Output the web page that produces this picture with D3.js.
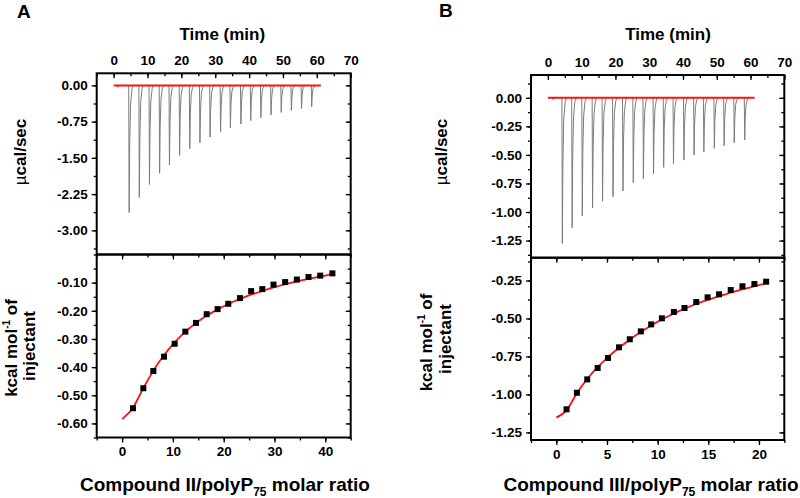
<!DOCTYPE html>
<html><head><meta charset="utf-8">
<script src="https://cdn.jsdelivr.net/npm/d3@7"></script>
<style>
body{margin:0;background:#fff}
svg{display:block}
text{font-family:"Liberation Sans",Arial,sans-serif;font-weight:bold;fill:#000}
</style>
</head><body>
<svg id="c" width="800" height="498"></svg>
<script>
// ---------- shared tick labels ----------
const timeTicks = [0, 10, 20, 30, 40, 50, 60, 70];

// ---------- Panel A ----------
const injTimesA = [1.2, 4.5, 7.5, 10.5, 13.5, 16.4, 19.4, 22.4, 25.4, 28.4, 31.5, 34.4, 37.5, 40.4, 43.4, 46.4, 49.4, 52.4, 55.4, 58.4];
const peaksA = [-0.04, -2.63, -2.32, -2.05, -1.82, -1.65, -1.45, -1.31, -1.19, -1.07, -0.96, -0.88, -0.80, -0.73, -0.67, -0.61, -0.56, -0.52, -0.48, -0.44];
const baselineA = [0, 61.2];
const ratioA = [2.15, 4.18, 6.15, 8.25, 10.35, 12.45, 14.55, 16.65, 18.8, 20.9, 23.2, 25.4, 27.6, 29.8, 32.1, 34.4, 36.7, 39.0, 41.4];
const heatA = [-0.546, -0.475, -0.414, -0.363, -0.317, -0.274, -0.243, -0.212, -0.194, -0.175, -0.155, -0.130, -0.123, -0.107, -0.098, -0.089, -0.080, -0.075, -0.067];
const fitRatioA = [0, 1, 2, 3, 4, 5, 6, 8, 10, 12, 14, 16, 18, 20, 22, 24, 26, 28, 30, 32, 34, 36, 38, 40, 41.5];
const fitHeatA = [-0.585, -0.568, -0.549, -0.516, -0.481, -0.448, -0.417, -0.363, -0.319, -0.282, -0.251, -0.225, -0.203, -0.184, -0.167, -0.152, -0.139, -0.127, -0.116, -0.106, -0.097, -0.089, -0.082, -0.075, -0.069];
const yTicksTopA = [0, -0.75, -1.5, -2.25, -3.0];
const yTicksBotA = [-0.1, -0.2, -0.3, -0.4, -0.5, -0.6];
const xTicksBotA = [0, 10, 20, 30, 40];

// ---------- Panel B ----------
const injTimesB = [1.3, 4.2, 7.1, 10.1, 13.15, 16.1, 19.2, 22.15, 25.2, 28.2, 31.2, 34.2, 37.1, 40.2, 43.2, 46.1, 49.2, 52.1, 55.1, 58.2];
const peaksB = [-0.015, -1.275, -1.137, -1.035, -0.965, -0.906, -0.866, -0.816, -0.743, -0.708, -0.664, -0.609, -0.577, -0.545, -0.501, -0.475, -0.442, -0.419, -0.393, -0.37];
const baselineB = [0, 61.2];
const ratioB = [1.01, 2.03, 3.05, 4.08, 5.1, 6.19, 7.25, 8.34, 9.36, 10.42, 11.6, 12.65, 13.81, 14.93, 16.06, 17.21, 18.37, 19.55, 20.71];
const heatB = [-1.098, -0.989, -0.901, -0.826, -0.760, -0.690, -0.637, -0.585, -0.539, -0.499, -0.457, -0.431, -0.392, -0.361, -0.341, -0.313, -0.288, -0.273, -0.258];
const fitRatioB = [0, 1, 2, 3, 4, 5, 6, 7, 8, 9, 10, 11, 12, 13, 14, 15, 16, 17, 18, 19, 20, 20.7];
const fitHeatB = [-1.153, -1.105, -0.995, -0.902, -0.826, -0.761, -0.703, -0.651, -0.604, -0.561, -0.522, -0.487, -0.455, -0.426, -0.400, -0.376, -0.354, -0.334, -0.315, -0.298, -0.281, -0.266];
const yTicksTopB = [0, -0.25, -0.5, -0.75, -1.0, -1.25];
const yTicksBotB = [-0.25, -0.5, -0.75, -1.0, -1.25];
const xTicksBotB = [0, 5, 10, 15, 20];

const svg = d3.select("#c");

function minorOf(major, lo, hi) {
  const step = Math.abs(major[1] - major[0]) / 2;
  const out = [];
  const start = Math.ceil(lo / step - 1e-9);
  const end = Math.floor(hi / step + 1e-9);
  for (let k = start; k <= end; k++) out.push(+(k * step).toFixed(6));
  return out;
}

function axis(g, maker, scale, tx, ty, major, inward, fmt, pad) {
  const d = scale.domain();
  const lo = Math.min(d[0], d[1]), hi = Math.max(d[0], d[1]);
  const minor = minorOf(major, lo, hi);
  const gm = g.append("g").attr("transform", `translate(${tx},${ty})`)
    .call(maker(scale).tickValues(minor).tickSize(inward ? -3 : 3).tickFormat(""));
  gm.select(".domain").remove();
  gm.selectAll("line").attr("stroke", "#000").attr("stroke-width", 1.3);
  const ga = g.append("g").attr("transform", `translate(${tx},${ty})`)
    .call(maker(scale).tickValues(major).tickSize(inward ? -5 : 5).tickPadding(pad)
      .tickFormat(fmt || ""));
  ga.select(".domain").remove();
  ga.selectAll("line").attr("stroke", "#000").attr("stroke-width", 1.3);
  ga.selectAll("text").attr("font-size", 13.5).attr("font-family", '"Liberation Sans",Arial,sans-serif')
    .attr("font-weight", "bold").attr("fill", "#000");
  return ga;
}

function drawPanel(cfg) {
  const { L, R, T, S, B } = cfg.box;
  const g = svg.append("g");
  const xt = d3.scaleLinear().domain([-5, 70]).range([L, R]);
  const yt = d3.scaleLinear().domain(cfg.ytDomain).range([S, T]);
  const xb = d3.scaleLinear().domain(cfg.xbDomain).range([L, R]);
  const yb = d3.scaleLinear().domain(cfg.ybDomain).range([B, S]);

  // thermogram spikes
  const spikeLine = d3.line().x(d => xt(d[0])).y(d => yt(d[1]));
  cfg.times.forEach((t, i) => {
    const p = cfg.peaks[i];
    const pts = [[t - 0.05, 0], [t + 0.08, p], [t + 0.25, p * 0.45], [t + 0.5, p * 0.15], [t + 0.9, p * 0.03], [t + 1.3, 0]];
    g.append("path").attr("d", spikeLine(pts)).attr("fill", "none")
      .attr("stroke", "#7c7c7c").attr("stroke-width", 1);
  });
  // red baseline
  g.append("line").attr("x1", xt(cfg.baseline[0])).attr("x2", xt(cfg.baseline[1]))
    .attr("y1", yt(0)).attr("y2", yt(0)).attr("stroke", "#ff1010").attr("stroke-width", 2);

  // fit curve
  const fitPts = cfg.fitX.map((x, i) => [x, cfg.fitY[i]]);
  g.append("path").attr("d", d3.line().x(d => xb(d[0])).y(d => yb(d[1])).curve(d3.curveMonotoneX)(fitPts))
    .attr("fill", "none").attr("stroke", "#ff1010").attr("stroke-width", 1.8);
  // squares
  g.selectAll(null).data(cfg.ratio.map((x, i) => [x, cfg.heat[i]])).enter().append("rect")
    .attr("x", d => xb(d[0]) - 3).attr("y", d => yb(d[1]) - 3)
    .attr("width", 6).attr("height", 6).attr("fill", "#000");

  const f2 = d => d.toFixed(2);
  // top panel axes
  axis(g, d3.axisTop, xt, 0, T, timeTicks, true, d => String(d), 8);
  axis(g, d3.axisLeft, yt, L, 0, cfg.ytTicks, false, f2, 4);
  axis(g, d3.axisRight, yt, R, 0, cfg.ytTicks, true, null, 4);
  // bottom panel axes
  axis(g, d3.axisTop, xb, 0, S, cfg.xbTicks, true, null, 4);
  axis(g, d3.axisBottom, xb, 0, B, cfg.xbTicks, false, d => String(d), 4);
  axis(g, d3.axisLeft, yb, L, 0, cfg.ybTicks, false, f2, 4);
  axis(g, d3.axisRight, yb, R, 0, cfg.ybTicks, true, null, 4);

  // frames
  g.append("rect").attr("x", L).attr("y", T).attr("width", R - L).attr("height", S - T)
    .attr("fill", "none").attr("stroke", "#000").attr("stroke-width", 2);
  g.append("rect").attr("x", L).attr("y", S).attr("width", R - L).attr("height", B - S)
    .attr("fill", "none").attr("stroke", "#000").attr("stroke-width", 2);

  // titles
  const lab = cfg.labels;
  svg.append("text").attr("x", lab.letter[0]).attr("y", lab.letter[1]).attr("font-size", 19).text(cfg.letter);
  svg.append("text").attr("x", lab.time[0]).attr("y", lab.time[1]).attr("text-anchor", "middle")
    .attr("font-size", 17).text("Time (min)");
  const mu = svg.append("text").attr("transform", `translate(${lab.ucal[0]},${lab.ucal[1]}) rotate(-90)`)
    .attr("text-anchor", "middle").attr("font-size", 17);
  mu.append("tspan").attr("font-weight", "normal").text("\u00b5");
  mu.append("tspan").text("cal/sec");
  const k1 = svg.append("text").attr("transform", `translate(${lab.kcal1[0]},${lab.kcal1[1]}) rotate(-90)`)
    .attr("text-anchor", "middle").attr("font-size", 17);
  k1.append("tspan").text("kcal mol");
  k1.append("tspan").attr("font-size", 10).attr("dy", -7).text("-1");
  k1.append("tspan").attr("dy", 7).text(" of");
  svg.append("text").attr("transform", `translate(${lab.kcal2[0]},${lab.kcal2[1]}) rotate(-90)`)
    .attr("text-anchor", "middle").attr("font-size", 17).text("injectant");
  const xtl = svg.append("text").attr("x", lab.xt[0]).attr("y", lab.xt[1])
    .attr("text-anchor", lab.xtAnchor).attr("font-size", 19);
  xtl.append("tspan").text(cfg.compound);
  xtl.append("tspan").attr("font-size", 12).attr("dy", 5).text("75");
  xtl.append("tspan").attr("dy", -5).text(" molar ratio");
}

drawPanel({
  letter: "A",
  compound: "Compound II/polyP",
  box: { L: 96.7, R: 350.7, T: 73.3, S: 254.5, B: 437.5 },
  ytDomain: [-3.5, 0.25], xbDomain: [-5, 45], ybDomain: [-0.65, 0],
  times: injTimesA, peaks: peaksA, baseline: baselineA,
  ratio: ratioA, heat: heatA, fitX: fitRatioA, fitY: fitHeatA,
  ytTicks: yTicksTopA, ybTicks: yTicksBotA, xbTicks: xTicksBotA,
  labels: { letter: [17, 18], time: [222.3, 40], ucal: [26, 152], kcal1: [16.5, 348], kcal2: [34.5, 346], xt: [225, 491], xtAnchor: "middle" }
});

drawPanel({
  letter: "B",
  compound: "Compound III/polyP",
  box: { L: 531, R: 784.3, T: 75, S: 257.7, B: 440 },
  ytDomain: [-1.4, 0.2], xbDomain: [-2.5, 22.5], ybDomain: [-1.3, -0.1],
  times: injTimesB, peaks: peaksB, baseline: baselineB,
  ratio: ratioB, heat: heatB, fitX: fitRatioB, fitY: fitHeatB,
  ytTicks: yTicksTopB, ybTicks: yTicksBotB, xbTicks: xTicksBotB,
  labels: { letter: [439, 17], time: [668, 40], ucal: [446.5, 152], kcal1: [432, 342.5], kcal2: [451, 339], xt: [503.5, 491], xtAnchor: "start" }
});
</script>
</body></html>
